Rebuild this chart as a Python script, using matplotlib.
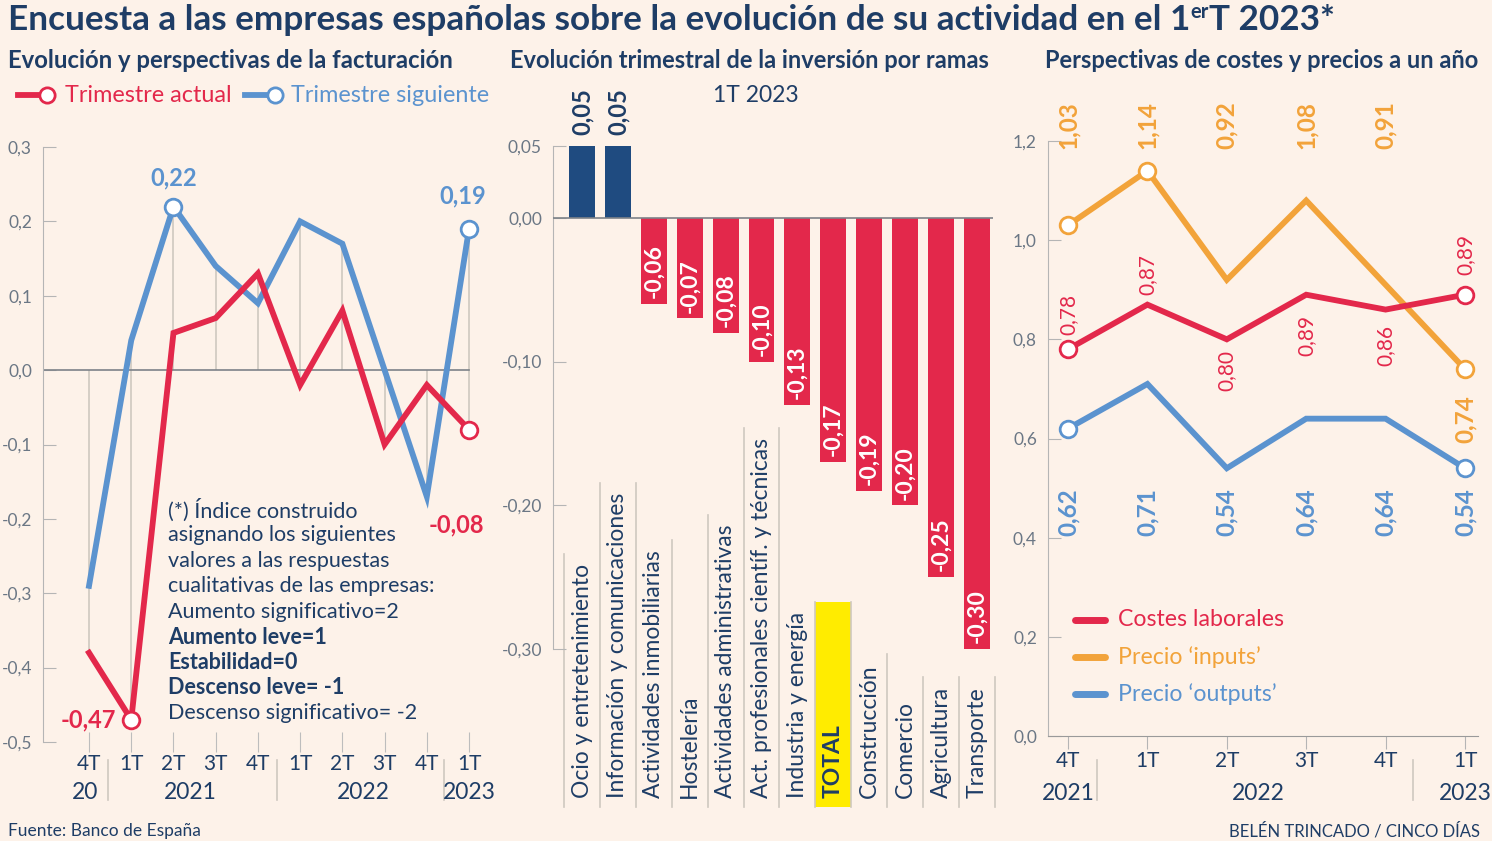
import matplotlib
matplotlib.use("Agg")
import matplotlib.pyplot as plt
from matplotlib.patches import Rectangle
from matplotlib.lines import Line2D

plt.rcParams['font.family'] = ['Lato', 'DejaVu Sans']

W, H = 1492, 841
FONDO = '#fdf2e9'
NAVY = '#1e3d66'
GRIS = '#6b7785'
ROJO = '#e3284b'
AZUL = '#5b93cf'
NARANJA = '#f2a33a'
AZUL_OSC = '#1f4b80'
LINEA = '#cfc8c0'

# ---- datos panel 1: facturacion ----
trimestres1 = ['4T', '1T', '2T', '3T', '4T', '1T', '2T', '3T', '4T', '1T']
actual = [-0.38, -0.47, 0.05, 0.07, 0.13, -0.02, 0.08, -0.10, -0.02, -0.08]
siguiente = [-0.29, 0.04, 0.22, 0.14, 0.09, 0.20, 0.17, 0.00, -0.17, 0.19]

# ---- datos panel 2: inversion por ramas ----
ramas = ['Ocio y entretenimiento', 'Información y comunicaciones',
         'Actividades inmobiliarias', 'Hostelería', 'Actividades administrativas',
         'Act. profesionales científ. y técnicas', 'Industria y energía', 'TOTAL',
         'Construcción', 'Comercio', 'Agricultura', 'Transporte']
inversion = [0.05, 0.05, -0.06, -0.07, -0.08, -0.10, -0.13, -0.17, -0.19, -0.20, -0.25, -0.30]

# ---- datos panel 3: costes y precios ----
trimestres3 = ['4T', '1T', '2T', '3T', '4T', '1T']
costes = [0.78, 0.87, 0.80, 0.89, 0.86, 0.89]
inputs = [1.03, 1.14, 0.92, 1.08, 0.91, 0.74]
outputs = [0.62, 0.71, 0.54, 0.64, 0.64, 0.54]


def coma(v, dec=2):
    return f"{v:.{dec}f}".replace('.', ',')


def caja(l, t, r, b):
    return [l / W, 1 - b / H, (r - l) / W, (b - t) / H]


def fx(x):
    return x / W


def fy(y):
    return 1 - y / H


fig = plt.figure(figsize=(W / 100, H / 100), dpi=100, facecolor=FONDO)

# ================= panel 1 =================
ax1 = fig.add_axes(caja(43, 147, 481.7, 742))
ax1.set_facecolor('none')
x1 = list(range(len(actual)))
ax1.set_xlim(-1.09, 9.3)
ax1.set_ylim(-0.5, 0.3)

for i in x1:
    lo = min(0, actual[i], siguiente[i])
    hi = max(0, actual[i], siguiente[i])
    ax1.vlines(i, lo, hi, color=LINEA, lw=1.2, zorder=1)
ax1.plot([-1.09, 9], [0, 0], color='#7d8288', lw=1.2, zorder=2)

ax1.plot(x1, siguiente, color=AZUL, lw=4.2, solid_joinstyle='miter', zorder=3)
ax1.plot(x1, actual, color=ROJO, lw=4.2, solid_joinstyle='miter', zorder=4)
ax1.plot([2, 9], [siguiente[2], siguiente[9]], 'o', ms=12, mfc='white', mec=AZUL, mew=2, zorder=5)
ax1.plot([1, 9], [actual[1], actual[9]], 'o', ms=12, mfc='white', mec=ROJO, mew=2, zorder=5)

ax1.annotate(coma(siguiente[2]), (2, siguiente[2]), xytext=(0, 29), textcoords='offset pixels',
             ha='center', va='center', color=AZUL, fontsize=17, fontweight='bold')
ax1.annotate(coma(siguiente[9]), (9, siguiente[9]), xytext=(-6, 33), textcoords='offset pixels',
             ha='center', va='center', color=AZUL, fontsize=17, fontweight='bold')
ax1.annotate(coma(actual[9]), (9, actual[9]), xytext=(-13, -95), textcoords='offset pixels',
             ha='center', va='center', color=ROJO, fontsize=17, fontweight='bold')
ax1.annotate(coma(actual[1]), (1, actual[1]), xytext=(-43, 0), textcoords='offset pixels',
             ha='center', va='center', color=ROJO, fontsize=17, fontweight='bold')

yt1 = [0.3, 0.2, 0.1, 0.0, -0.1, -0.2, -0.3, -0.4, -0.5]
ax1.set_yticks(yt1)
ax1.set_yticklabels([coma(v, 1) for v in yt1])
ax1.set_xticks(x1)
ax1.set_xticklabels(trimestres1)
ax1.tick_params(axis='y', direction='in', length=9, color='#b5b5b5', labelcolor=GRIS,
                labelsize=12.5, pad=8)
ax1.tick_params(axis='x', direction='inout', length=14, color='#bdbdbd', labelcolor=NAVY,
                labelsize=15, pad=2)
for s in ['top', 'right', 'bottom']:
    ax1.spines[s].set_visible(False)
ax1.spines['left'].set_color('#b5b5b5')

tx1 = ax1.get_xaxis_transform()
for xs in [0.45, 4.45, 8.4]:
    ax1.plot([xs, xs], [-0.030, -0.0975], transform=tx1, color=LINEA, lw=1.2, clip_on=False)
for xa, txt in [(-0.1, '20'), (2.4, '2021'), (6.5, '2022'), (9, '2023')]:
    ax1.text(xa, -0.0857, txt, transform=tx1, ha='center', va='center', fontsize=16.5, color=NAVY)

nota = ['(*) Índice construido', 'asignando los siguientes', 'valores a las respuestas',
        'cualitativas de las empresas:', 'Aumento significativo=2', 'Aumento leve=1',
        'Estabilidad=0', 'Descenso leve= -1', 'Descenso significativo= -2']
for k, linea in enumerate(nota):
    peso = 'bold' if 5 <= k <= 7 else 'normal'
    fig.text(fx(168), fy(510 + k * 25.4), linea, ha='left', va='center', fontsize=15.5,
             color=NAVY, fontweight=peso)

# leyenda panel 1
fig.add_artist(Line2D([fx(18), fx(50)], [fy(95), fy(95)], color=ROJO, lw=4.2))
fig.add_artist(Line2D([fx(47)], [fy(95)], marker='o', ms=11, mfc='white', mec=ROJO, mew=2))
fig.text(fx(65), fy(95), 'Trimestre actual', ha='left', va='center', fontsize=16.8, color=ROJO)
fig.add_artist(Line2D([fx(245), fx(278)], [fy(95), fy(95)], color=AZUL, lw=4.2))
fig.add_artist(Line2D([fx(275)], [fy(95)], marker='o', ms=11, mfc='white', mec=AZUL, mew=2))
fig.text(fx(291), fy(95), 'Trimestre siguiente', ha='left', va='center', fontsize=16.8, color=AZUL)

# ================= panel 2 =================
ax2 = fig.add_axes(caja(553, 146, 993, 649))
ax2.set_facecolor('none')
x2 = list(range(len(inversion)))
colores = [AZUL_OSC if v > 0 else ROJO for v in inversion]
ax2.bar(x2, inversion, width=0.72, color=colores, zorder=2)
ax2.set_xlim(-0.808, 11.45)
ax2.set_ylim(-0.30, 0.05)
ax2.axhline(0, color='#7d8288', lw=1.2, zorder=3)

for i, v in zip(x2, inversion):
    if v > 0:
        ax2.text(i, v + 0.008, coma(v), rotation=90, ha='center', va='bottom',
                 color=NAVY, fontsize=17, fontweight='bold')
    else:
        ax2.text(i, v + 0.004, coma(v), rotation=90, ha='center', va='bottom',
                 color='white', fontsize=16.5, fontweight='bold', zorder=4)

yt2 = [0.05, 0.0, -0.10, -0.20, -0.30]
ax2.set_yticks(yt2)
ax2.set_yticklabels([coma(v) for v in yt2])
ax2.set_xticks([])
ax2.tick_params(axis='y', direction='in', length=9, color='#b5b5b5', labelcolor=GRIS,
                labelsize=12.5, pad=8)
for s in ['top', 'right', 'bottom']:
    ax2.spines[s].set_visible(False)
ax2.spines['left'].set_color('#b5b5b5')

tx2 = ax2.get_xaxis_transform()
alto2 = 649 - 146
y_base = (649 - 798) / alto2
y_fondo = (649 - 807) / alto2
i_total = ramas.index('TOTAL')
caja_total = Rectangle((i_total - 0.5, y_fondo), 1, (807 - 602) / alto2, transform=tx2,
                       facecolor='#ffec00', edgecolor='none', clip_on=False, zorder=0)
ax2.add_patch(caja_total)
etiquetas = []
for i, nombre in zip(x2, ramas):
    peso = 'bold' if nombre == 'TOTAL' else 'normal'
    etiquetas.append(ax2.text(i, y_base, nombre, transform=tx2, rotation=90, ha='center',
                              va='bottom', fontsize=16.5, color=NAVY, fontweight=peso, zorder=3))

fig.canvas.draw()
rend = fig.canvas.get_renderer()
inv = ax2.transAxes.inverted()
tops = []
for i, t in enumerate(etiquetas):
    if i == i_total:
        tops.append(inv.transform((0, caja_total.get_window_extent(rend).y1))[1])
    else:
        tops.append(inv.transform((0, t.get_window_extent(rend).y1 + 10))[1])
for k in range(len(ramas) + 1):
    vecinos = [tops[j] for j in (k - 1, k) if 0 <= j < len(ramas)]
    ax2.plot([k - 0.5, k - 0.5], [y_fondo, max(vecinos)], transform=tx2, color=LINEA,
             lw=1.2, clip_on=False, zorder=1)

fig.text(fx(756), fy(95), '1T 2023', ha='center', va='center', fontsize=16.5, color=NAVY)

# ================= panel 3 =================
ax3 = fig.add_axes(caja(1048, 141, 1478, 736))
ax3.set_facecolor('none')
x3 = list(range(len(costes)))
ax3.set_xlim(-0.252, 5.164)
ax3.set_ylim(0, 1.2)

ax3.plot(x3, outputs, color=AZUL, lw=4.2, solid_joinstyle='miter', zorder=3)
ax3.plot(x3, inputs, color=NARANJA, lw=4.2, solid_joinstyle='miter', zorder=3)
ax3.plot(x3, costes, color=ROJO, lw=4.2, solid_joinstyle='miter', zorder=4)
ax3.plot([0, 5], [outputs[0], outputs[5]], 'o', ms=12, mfc='white', mec=AZUL, mew=2, zorder=5, clip_on=False)
ax3.plot([0, 1, 5], [inputs[0], inputs[1], inputs[5]], 'o', ms=12, mfc='white', mec=NARANJA,
         mew=2, zorder=5, clip_on=False)
ax3.plot([0, 5], [costes[0], costes[5]], 'o', ms=12, mfc='white', mec=ROJO, mew=2, zorder=5, clip_on=False)

tx3 = ax3.get_xaxis_transform()
for i, v in enumerate(inputs):
    if i < 5:
        ax3.text(i, 1.027, coma(v), transform=tx3, rotation=90, ha='center', va='center',
                 color=NARANJA, fontsize=17.5, fontweight='bold')
    else:
        ax3.annotate(coma(v), (i, v), xytext=(0, -26), textcoords='offset pixels', rotation=90,
                     ha='center', va='top', color=NARANJA, fontsize=17.5, fontweight='bold')
for i, v in enumerate(outputs):
    ax3.text(i, 0.3765, coma(v), transform=tx3, rotation=90, ha='center', va='center',
             color=AZUL, fontsize=17.5, fontweight='bold')
arriba = [True, True, False, False, False, True]
desp = [14, 10, -11, -20, -15, 20]
for i, v in enumerate(costes):
    ax3.annotate(coma(v), (i, v), xytext=(0, desp[i]), textcoords='offset pixels', rotation=90,
                 ha='center', va='bottom' if arriba[i] else 'top', color=ROJO, fontsize=15)

yt3 = [0.0, 0.2, 0.4, 0.6, 0.8, 1.0, 1.2]
ax3.set_yticks(yt3)
ax3.set_yticklabels([coma(v, 1) for v in yt3])
ax3.set_xticks(x3)
ax3.set_xticklabels(trimestres3)
ax3.tick_params(axis='y', direction='in', length=9, color='#b5b5b5', labelcolor=GRIS,
                labelsize=12.5, pad=8)
ax3.tick_params(axis='x', direction='out', length=9, color='#b5b5b5', labelcolor=NAVY,
                labelsize=15, pad=2)
for s in ['top', 'right']:
    ax3.spines[s].set_visible(False)
ax3.spines['left'].set_color('#b5b5b5')
ax3.spines['bottom'].set_color('#9a9a9a')

for xs in [0.37, 4.35]:
    ax3.plot([xs, xs], [-0.040, -0.107], transform=tx3, color=LINEA, lw=1.2, clip_on=False)
for xa, txt in [(0, '2021'), (2.4, '2022'), (5, '2023')]:
    ax3.text(xa, -0.0958, txt, transform=tx3, ha='center', va='center', fontsize=16.5, color=NAVY)

for k, (nombre, col) in enumerate([('Costes laborales', ROJO), ('Precio ‘inputs’', NARANJA),
                                   ('Precio ‘outputs’', AZUL)]):
    yy = 620 + k * 37
    fig.add_artist(Line2D([fx(1075), fx(1105)], [fy(yy), fy(yy)], color=col, lw=5,
                          solid_capstyle='round'))
    fig.text(fx(1118), fy(yy), nombre, ha='left', va='center', fontsize=16.7, color=col)

# ================= titulos =================
t1 = fig.text(fx(8), fy(20), 'Encuesta a las empresas españolas sobre la evolución de su actividad en el 1',
              ha='left', va='center', fontsize=25.3, fontweight='bold', color=NAVY)
fig.canvas.draw()
x_fin = t1.get_window_extent(fig.canvas.get_renderer()).x1
t2 = fig.text(x_fin / W, fy(12), 'er', ha='left', va='center', fontsize=14.5,
              fontweight='bold', color=NAVY)
fig.canvas.draw()
x_fin = t2.get_window_extent(fig.canvas.get_renderer()).x1
fig.text(x_fin / W, fy(20), 'T 2023*', ha='left', va='center', fontsize=25.3,
         fontweight='bold', color=NAVY)

fig.text(fx(8), fy(60), 'Evolución y perspectivas de la facturación', ha='left', va='center',
         fontsize=17.2, fontweight='bold', color=NAVY)
fig.text(fx(510), fy(60), 'Evolución trimestral de la inversión por ramas', ha='left',
         va='center', fontsize=17, fontweight='bold', color=NAVY)
fig.text(fx(1045), fy(60), 'Perspectivas de costes y precios a un año', ha='left', va='center',
         fontsize=17, fontweight='bold', color=NAVY)

fig.text(fx(8), fy(831), 'Fuente: Banco de España', ha='left', va='center', fontsize=12.5, color=NAVY)
fig.text(fx(1480), fy(831), 'BELÉN TRINCADO / CINCO DÍAS', ha='right', va='center',
         fontsize=12, color=NAVY)

fig.savefig('out.png', dpi=100, facecolor=FONDO)
